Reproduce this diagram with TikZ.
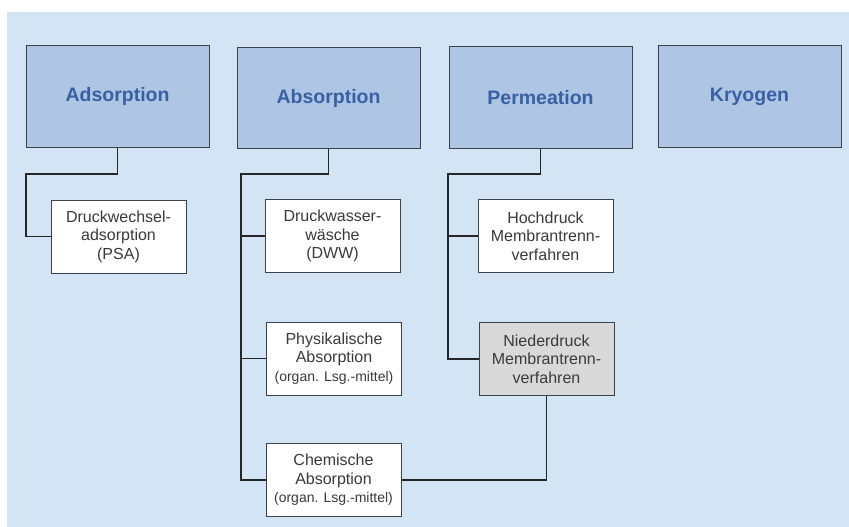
\documentclass[tikz,border=0pt]{standalone}
\usepackage{fontspec}
\setmainfont{Liberation Sans}
\definecolor{bgblue}{RGB}{211,228,244}
\definecolor{headblue}{RGB}{174,197,228}
\definecolor{headtext}{RGB}{56,96,164}
\definecolor{boxline}{RGB}{60,66,74}
\definecolor{subtext}{RGB}{58,58,58}
\definecolor{lowgrey}{RGB}{217,217,217}
\tikzset{
	headbox/.style={draw=boxline, line width=1pt, fill=headblue, minimum width=183pt, minimum height=101pt, inner sep=0pt,
		text=headtext, font=\fontsize{19.5}{23}\selectfont\bfseries},
	subbox/.style={draw=boxline, line width=1pt, fill=white, minimum width=135pt, minimum height=73pt, inner sep=0pt,
		align=center, text=subtext, font=\fontsize{16}{18.5}\selectfont},
	link/.style={draw=black!85, line width=1.3pt}
}
\newcommand{\lsgmittel}{{\fontsize{14}{18.5}\selectfont(organ. Lsg.-mittel)}}
\begin{document}
\begin{tikzpicture}[x=1pt, y=-1pt]
	\useasboundingbox (0,0) rectangle (849,527);
	\fill[bgblue] (7,12) rectangle (849,527);
	
	% Verfahren
	\node[headbox] (ads)  at (117.5,96.5) {Adsorption};
	\node[headbox] (abs)  at (328.5,98)   {Absorption};
	\node[headbox] (perm) at (540.5,97.5) {Permeation};
	\node[headbox] (kryo) at (749.5,96.5) {Kryogen};
	
	% Unterverfahren
	\node[subbox] (psa)  at (118.5,236.5) {Druckwechsel-\\adsorption\\(PSA)};
	\node[subbox] (dww)  at (332.5,236)   {Druckwasser-\\wäsche\\(DWW)};
	\node[subbox] (phys) at (334,358.5)   {Physikalische\\Absorption\\\lsgmittel};
	\node[subbox] (chem) at (333.5,480)   {Chemische\\Absorption\\\lsgmittel};
	\node[subbox] (hoch) at (545.5,236)   {Hochdruck\\Membrantrenn-\\verfahren};
	\node[subbox, fill=lowgrey] (nied) at (546.5,359) {Niederdruck\\Membrantrenn-\\verfahren};
	
	\coordinate (ads bus)  at (26,174);
	\coordinate (abs bus)  at (241,174);
	\coordinate (perm bus) at (448,174);
	
	\draw[link] (ads.south) |- (ads bus) |- (psa.west);
	\draw[link] (abs.south) |- (abs bus) |- (chem.west);
	\draw[link] (abs bus) |- (dww.west);
	\draw[link] (abs bus) |- (phys.west);
	\draw[link] (perm.south) |- (perm bus) |- (nied.west);
	\draw[link] (perm bus) |- (hoch.west);
	\draw[link] (nied.south) |- (chem.east);
	
\end{tikzpicture}
\end{document}
